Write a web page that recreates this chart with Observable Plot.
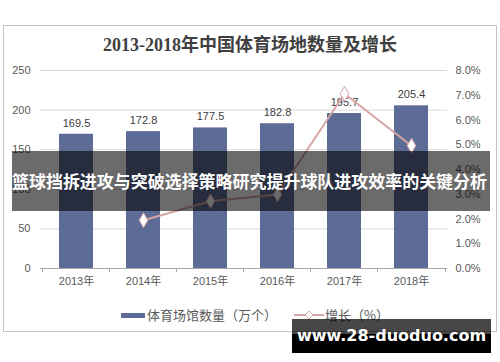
<!DOCTYPE html>
<html>
<head>
<meta charset="utf-8">
<script src="https://cdn.jsdelivr.net/npm/d3@7"></script>
<script src="https://cdn.jsdelivr.net/npm/@observablehq/plot@0.6"></script>
<style>
  body { margin: 0; background: #fff; }
  #wrap { position: relative; width: 500px; height: 362px; overflow: hidden; background: #fff; font-family: "Liberation Sans", "Noto Sans CJK SC", sans-serif; }
  #frame { position: absolute; left: 3px; top: 25px; width: 494px; height: 307px; border: 1px solid #c3c3c3; box-sizing: border-box; }
  #title { position: absolute; left: 0; width: 500px; top: 32px; text-align: center; font-family: "Liberation Serif", "Noto Sans CJK SC", serif; font-weight: bold; font-size: 18px; color: #404040; line-height: 26px; }
  #chart { position: absolute; left: 0; top: 0; }
  .leg { position: absolute; font-size: 13px; color: #595959; line-height: 16px; font-family: "Noto Sans CJK SC", sans-serif; }
  #banner { position: absolute; left: 12px; top: 151px; width: 478px; height: 60px; background: rgba(0,0,0,0.58); }
  #bannerText { position: absolute; left: 12px; top: 151px; color: #fff; font-family: "Noto Sans CJK SC", sans-serif; font-weight: bold; font-size: 17px; line-height: 60px; white-space: nowrap; }
  #wm1 { position: absolute; left: 292px; top: 319px; width: 199px; height: 15px; background: rgba(0,0,0,0.72); }
  #wm2 { position: absolute; left: 292px; top: 334px; width: 199px; height: 19px; background: #000; }
  #wmtext { position: absolute; left: 292px; top: 325px; width: 199px; text-align: center; color: #fff; font-family: "DejaVu Sans", sans-serif; font-weight: bold; font-size: 16px; line-height: 22px; }
</style>
</head>
<body>
<div id="wrap">
  <div id="frame"></div>
  <div id="title">2013-2018年中国体育场地数量及增长</div>
  <div id="chart"></div>
  <div id="legend"></div>
  <div id="banner"></div>
  <span id="bannerText">篮球挡拆进攻与突破选择策略研究提升球队进攻效率的关键分析</span>
  <div id="wm1"></div>
  <div id="wm2"></div>
  <div id="wmtext">www.28-duoduo.com</div>
</div>
<script>
const years = ["2013年", "2014年", "2015年", "2016年", "2017年", "2018年"];
const counts = [169.5, 172.8, 177.5, 182.8, 195.7, 205.4];
const growthYears = ["2014年", "2015年", "2016年", "2017年", "2018年"];
const growth = [1.95, 2.72, 2.99, 7.06, 4.96];
const leftTicks = [0, 50, 100, 150, 200, 250];
const rightTicks = [0, 1, 2, 3, 4, 5, 6, 7, 8];
const seriesNames = ["体育场馆数量（万个）", "增长（%）"];

const barColor = "#5d6b97";
const lineColor = "#d6a4a4";
const leftMax = 250, rightMax = 8;
const toLeft = g => g * leftMax / rightMax;

const bars = years.map((y, i) => ({year: y, value: counts[i]}));
const line = growthYears.map((y, i) => ({year: y, g: growth[i]}));

const chart = Plot.plot({
  width: 500,
  height: 362,
  marginLeft: 40,
  marginRight: 53,
  marginTop: 70,
  marginBottom: 94,
  style: {fontFamily: "Liberation Sans, Noto Sans CJK SC, sans-serif", fontSize: "11px", color: "#595959", background: "transparent"},
  x: {domain: years, paddingInner: 0.5, paddingOuter: 0.25, label: null},
  y: {domain: [0, leftMax], label: null},
  marks: [
    Plot.ruleY(leftTicks.filter(d => d > 0), {stroke: "#d9d9d9", strokeWidth: 1}),
    Plot.barY(bars, {x: "year", y: "value", fill: barColor}),
    Plot.ruleY([0], {stroke: "#a6a6a6"}),
    Plot.ruleX(years, {x: d => d, y1: 0, y2: -5, dx: -34, stroke: "#a6a6a6"}),
    Plot.ruleX([years[years.length - 1]], {x: d => d, y1: 0, y2: -5, dx: 34, stroke: "#a6a6a6"}),
    Plot.text(bars, {x: "year", y: "value", text: d => d.value.toFixed(1), dy: -11, fill: "#404040", fontSize: 11}),
    Plot.line(line, {x: "year", y: d => toLeft(d.g), stroke: lineColor, strokeWidth: 2}),
    Plot.dot(line, {x: "year", y: d => toLeft(d.g), symbol: "diamond", r: 4.5, fill: "#fff", stroke: lineColor, strokeWidth: 1}),
    Plot.axisY(leftTicks, {anchor: "left", tickSize: 0, tickPadding: 10, label: null, fill: "#595959", fontSize: 11}),
    Plot.axisY(rightTicks.map(toLeft), {anchor: "right", tickSize: 0, tickPadding: 8, label: null, tickFormat: d => (d * rightMax / leftMax).toFixed(1) + "%", fill: "#595959", fontSize: 11}),
    Plot.axisX({tickSize: 0, tickPadding: 9, label: null, fill: "#595959", fontSize: 11})
  ]
});
document.getElementById("chart").appendChild(chart);

// fit banner text across the band width (reference: x 12 to ~487)
const bt = document.getElementById("bannerText");
const n = bt.textContent.length;
const w = bt.getBoundingClientRect().width;
bt.style.letterSpacing = ((475 - w) / n) + "px";

// legend
const legend = document.getElementById("legend");
legend.innerHTML = `
  <div style="position:absolute;left:121px;top:313px;width:24px;height:5px;background:${barColor}"></div>
  <div class="leg" style="left:147px;top:307px">${seriesNames[0]}</div>
  <svg style="position:absolute;left:294px;top:309px" width="30" height="12">
    <line x1="0" y1="6" x2="30" y2="6" stroke="${lineColor}" stroke-width="2"/>
    <path d="M15,2 L19,6 L15,10 L11,6 Z" fill="#fff" stroke="${lineColor}" stroke-width="1"/>
  </svg>
  <div class="leg" style="left:325px;top:307px">${seriesNames[1]}</div>
`;
</script>
</body>
</html>
